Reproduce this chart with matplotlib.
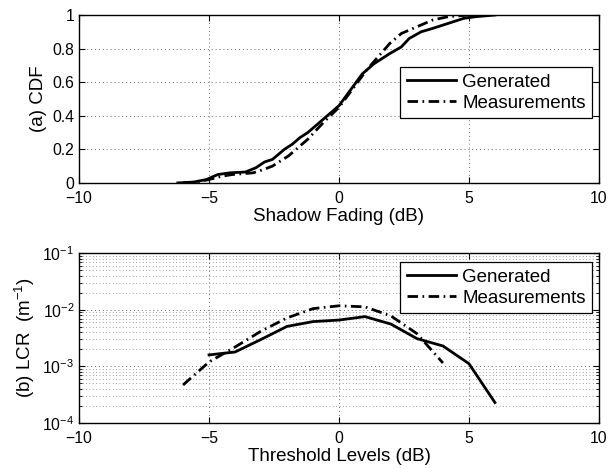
import numpy as np
import matplotlib
matplotlib.use("Agg")
import matplotlib.pyplot as plt
from matplotlib.ticker import LogLocator, NullFormatter

plt.rcParams['font.family'] = ['Liberation Sans', 'DejaVu Sans']
plt.rcParams['mathtext.fontset'] = 'custom'
plt.rcParams['mathtext.rm'] = 'Liberation Sans'
plt.rcParams['mathtext.it'] = 'Liberation Sans:italic'
plt.rcParams['mathtext.default'] = 'regular'

# (a) CDF of shadow fading
gen_x = [-6.2, -5.6, -5.1, -4.66, -4.2, -3.6, -3.2, -2.86, -2.56, -2.1, -1.8, -1.5,
         -1.2, -0.9, -0.6, -0.3, 0.0, 0.45, 0.9, 1.35, 1.95, 2.4, 2.7, 3.16, 3.6,
         4.2, 4.8, 5.26, 6.0]
gen_y = [0.0, 0.005, 0.02, 0.05, 0.06, 0.065, 0.09, 0.125, 0.14, 0.2, 0.23, 0.27,
         0.3, 0.34, 0.38, 0.42, 0.46, 0.555, 0.65, 0.71, 0.77, 0.81, 0.86, 0.9, 0.92,
         0.95, 0.98, 0.99, 1.0]

meas_x = [-6.0, -5.5, -5.0, -4.5, -4.1, -3.3, -2.9, -2.56, -1.95, -1.5, -1.2, -0.6,
          0.0, 0.6, 1.05, 1.5, 1.95, 2.4, 3.0, 3.6, 4.2, 5.0]
meas_y = [0.0, 0.005, 0.02, 0.04, 0.05, 0.06, 0.08, 0.1, 0.16, 0.22, 0.26, 0.36,
          0.45, 0.575, 0.67, 0.75, 0.83, 0.89, 0.93, 0.97, 0.99, 1.0]

# (b) level crossing rate
lcr_gen_x = [-5, -4, -3, -2, -1, 0, 1, 2, 3, 4, 5, 6]
lcr_gen_y = [1.6e-3, 1.8e-3, 3.0e-3, 5.1e-3, 6.2e-3, 6.6e-3, 7.6e-3, 5.6e-3,
             3.1e-3, 2.3e-3, 1.12e-3, 2.3e-4]
lcr_meas_x = [-6, -5, -4, -3, -2, -1, 0, 1, 2, 3, 4]
lcr_meas_y = [4.7e-4, 1.2e-3, 2.2e-3, 4.2e-3, 7.2e-3, 1.05e-2, 1.18e-2, 1.13e-2,
              7.8e-3, 3.8e-3, 1.15e-3]

labels = ['Generated', 'Measurements']
dashdot = (0, (3.8, 1.6, 0.6, 1.6))

fig = plt.figure(figsize=(6.13, 4.69), dpi=100)
ax1 = fig.add_axes([0.129, 0.610, 0.848, 0.358])
ax2 = fig.add_axes([0.129, 0.098, 0.848, 0.362])

ax1.plot(gen_x, gen_y, color='black', lw=2.0, label=labels[0])
ax1.plot(meas_x, meas_y, color='black', lw=2.0, linestyle=dashdot, label=labels[1])
ax1.set_xlim(-10, 10)
ax1.set_ylim(0, 1)
ax1.set_xticks([-10, -5, 0, 5, 10])
ax1.set_yticks([0, 0.2, 0.4, 0.6, 0.8, 1])
ax1.set_yticklabels(['0', '0.2', '0.4', '0.6', '0.8', '1'])
ax1.set_xlabel('Shadow Fading (dB)', fontsize=13.5, labelpad=1)
ax1.set_ylabel('(a) CDF', fontsize=13.5, labelpad=4)
ax1.grid(True, which='major', color='0.4', lw=0.7, linestyle=(0, (1, 3)))

ax2.plot(lcr_gen_x, lcr_gen_y, color='black', lw=2.0, label=labels[0])
ax2.plot(lcr_meas_x, lcr_meas_y, color='black', lw=2.0, linestyle=dashdot, label=labels[1])
ax2.set_yscale('log')
ax2.set_xlim(-10, 10)
ax2.set_ylim(1e-4, 1e-1)
ax2.set_xticks([-10, -5, 0, 5, 10])
ax2.yaxis.set_major_locator(LogLocator(base=10, numticks=10))
ax2.yaxis.set_minor_locator(LogLocator(base=10, subs=np.arange(2, 10), numticks=10))
ax2.yaxis.set_minor_formatter(NullFormatter())
ax2.set_xlabel('Threshold Levels (dB)', fontsize=13.5, labelpad=1)
ax2.set_ylabel('(b) LCR  (m$^{-1}$)', fontsize=13.5, labelpad=4)
ax2.grid(True, which='major', color='0.4', lw=0.7, linestyle=(0, (1, 3)))
ax2.grid(True, which='minor', axis='y', color='0.5', lw=0.6, linestyle=(0, (1, 3)))

for ax, ytop in [(ax1, 0.69), (ax2, 0.947)]:
    ax.tick_params(which='both', direction='in', top=True, right=True, labelsize=11.3)
    ax.tick_params(axis='x', pad=6)
    ax.tick_params(which='major', length=4)
    ax.tick_params(which='minor', length=2)
    for s in ax.spines.values():
        s.set_linewidth(1.0)
    leg = ax.legend(loc='upper right', bbox_to_anchor=(0.987, ytop), borderaxespad=0,
                    fontsize=13.5, fancybox=False, framealpha=1, edgecolor='black',
                    handlelength=2.6, handletextpad=0.35, borderpad=0.35,
                    labelspacing=0.2)
    leg.get_frame().set_linewidth(0.9)

fig.savefig('out.png', dpi=100)
